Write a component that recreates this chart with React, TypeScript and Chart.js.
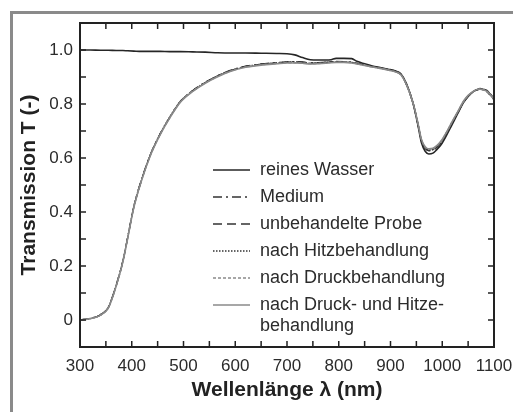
import { useEffect, useRef } from 'react';
import { Chart, registerables } from 'chart.js';

Chart.register(...registerables);

// Wavelength grid (nm)
const wavelengths = [
  300, 320, 340, 355, 370, 383, 392, 404, 419, 437,
  455, 473, 494, 518, 542, 566, 590, 620, 650, 680,
  700, 715, 730, 745, 760, 775, 785, 795, 810, 825,
  835, 850, 865, 880, 895, 910, 920, 931, 944, 954,
  960, 967, 974, 982, 990, 998, 1008, 1018, 1030, 1041,
  1050, 1060, 1067, 1073, 1080, 1086, 1092, 1096, 1100,
];

const reinesWasser = [
  1.000, 1.000, 0.999, 0.999, 0.998, 0.998, 0.997, 0.996, 0.995, 0.995,
  0.995, 0.994, 0.994, 0.993, 0.992, 0.990, 0.989, 0.989, 0.988, 0.987,
  0.986, 0.982, 0.972, 0.964, 0.963, 0.963, 0.964, 0.969, 0.969, 0.968,
  0.958, 0.949, 0.941, 0.935, 0.929, 0.922, 0.912, 0.875, 0.800, 0.712,
  0.655, 0.625, 0.615, 0.618, 0.632, 0.650, 0.683, 0.720, 0.765, 0.805,
  0.828, 0.846, 0.853, 0.857, 0.854, 0.850, 0.838, 0.830, 0.818,
];

const medium = [
  0.000, 0.006, 0.020, 0.048, 0.130, 0.220, 0.305, 0.420, 0.520, 0.617,
  0.690, 0.750, 0.810, 0.850, 0.880, 0.905, 0.924, 0.940, 0.948, 0.953,
  0.956, 0.957, 0.956, 0.952, 0.953, 0.955, 0.957, 0.958, 0.957, 0.955,
  0.951, 0.945, 0.939, 0.934, 0.928, 0.921, 0.910, 0.872, 0.800, 0.718,
  0.665, 0.638, 0.630, 0.632, 0.643, 0.660, 0.692, 0.728, 0.770, 0.808,
  0.830, 0.846, 0.852, 0.855, 0.852, 0.846, 0.835, 0.827, 0.815,
];

const unbehandelteProbe = [
  0.000, 0.005, 0.019, 0.047, 0.128, 0.218, 0.303, 0.418, 0.519, 0.616,
  0.689, 0.749, 0.809, 0.849, 0.879, 0.904, 0.923, 0.939, 0.947, 0.952,
  0.955, 0.956, 0.955, 0.951, 0.952, 0.954, 0.956, 0.957, 0.956, 0.954,
  0.950, 0.944, 0.938, 0.933, 0.927, 0.920, 0.909, 0.871, 0.799, 0.716,
  0.662, 0.635, 0.627, 0.629, 0.640, 0.657, 0.689, 0.726, 0.768, 0.806,
  0.829, 0.845, 0.852, 0.856, 0.851, 0.847, 0.834, 0.828, 0.814,
];

const nachHitze = [
  0.001, 0.006, 0.021, 0.049, 0.131, 0.221, 0.306, 0.421, 0.521, 0.618,
  0.691, 0.751, 0.810, 0.850, 0.880, 0.904, 0.923, 0.939, 0.947, 0.952,
  0.955, 0.955, 0.954, 0.951, 0.952, 0.954, 0.956, 0.957, 0.956, 0.954,
  0.950, 0.945, 0.939, 0.933, 0.927, 0.920, 0.909, 0.871, 0.800, 0.718,
  0.664, 0.637, 0.629, 0.631, 0.642, 0.659, 0.691, 0.727, 0.769, 0.807,
  0.829, 0.846, 0.853, 0.854, 0.853, 0.845, 0.836, 0.826, 0.816,
];

const nachDruck = [
  0.000, 0.005, 0.019, 0.046, 0.127, 0.217, 0.302, 0.417, 0.518, 0.615,
  0.688, 0.748, 0.808, 0.848, 0.878, 0.902, 0.921, 0.937, 0.945, 0.950,
  0.953, 0.953, 0.952, 0.949, 0.950, 0.952, 0.954, 0.955, 0.955, 0.953,
  0.949, 0.943, 0.937, 0.932, 0.926, 0.919, 0.908, 0.871, 0.800, 0.720,
  0.667, 0.640, 0.632, 0.634, 0.645, 0.662, 0.694, 0.730, 0.771, 0.809,
  0.831, 0.847, 0.853, 0.856, 0.852, 0.848, 0.836, 0.829, 0.817,
];

const nachDruckUndHitze = [
  0.000, 0.005, 0.018, 0.046, 0.126, 0.216, 0.301, 0.416, 0.517, 0.614,
  0.687, 0.747, 0.807, 0.847, 0.877, 0.901, 0.920, 0.936, 0.944, 0.949,
  0.952, 0.952, 0.951, 0.948, 0.949, 0.951, 0.953, 0.954, 0.954, 0.952,
  0.948, 0.943, 0.937, 0.932, 0.926, 0.919, 0.908, 0.871, 0.801, 0.721,
  0.668, 0.642, 0.634, 0.636, 0.647, 0.664, 0.695, 0.731, 0.772, 0.810,
  0.832, 0.847, 0.854, 0.855, 0.853, 0.847, 0.837, 0.828, 0.818,
];

const seriesLabels = [
  'reines Wasser',
  'Medium',
  'unbehandelte Probe',
  'nach Hitzbehandlung',
  'nach Druckbehandlung',
  'nach Druck- und Hitzebehandlung',
];

const legendTexts = [
  ['reines Wasser'],
  ['Medium'],
  ['unbehandelte Probe'],
  ['nach Hitzbehandlung'],
  ['nach Druckbehandlung'],
  ['nach Druck- und Hitze-', 'behandlung'],
];

const xTitle = 'Wellenlänge λ (nm)';
const yTitle = 'Transmission T (-)';

const FONT = "'Liberation Sans', Arial, Helvetica, sans-serif";

const seriesValues = [reinesWasser, medium, unbehandelteProbe, nachHitze, nachDruck, nachDruckUndHitze];
const seriesStyles = [
  { color: '#262626', width: 1.6, dash: [] as number[], order: 5 },
  { color: '#333333', width: 1.4, dash: [9, 4, 2, 4], order: 4 },
  { color: '#333333', width: 1.4, dash: [9, 5], order: 3 },
  { color: '#333333', width: 1.2, dash: [1.5, 1.5], order: 2 },
  { color: '#8a8a8a', width: 1.4, dash: [3, 2], order: 1 },
  { color: '#8a8a8a', width: 1.6, dash: [] as number[], order: 0 },
];

const framePlugin = {
  id: 'frameTicksLegend',
  afterDraw(chart: any) {
    const { ctx, chartArea: a, scales } = chart;
    const x = scales.x;
    const y = scales.y;
    ctx.save();
    // inward tick marks on all four sides
    ctx.strokeStyle = '#222';
    ctx.lineWidth = 1.5;
    ctx.beginPath();
    x.ticks.forEach((t: any) => {
      const px = x.getPixelForValue(t.value);
      ctx.moveTo(px, a.bottom);
      ctx.lineTo(px, a.bottom - 6);
      ctx.moveTo(px, a.top);
      ctx.lineTo(px, a.top + 6);
    });
    y.ticks.forEach((t: any) => {
      const py = y.getPixelForValue(t.value);
      ctx.moveTo(a.left, py);
      ctx.lineTo(a.left + 6, py);
      ctx.moveTo(a.right, py);
      ctx.lineTo(a.right - 6, py);
    });
    ctx.stroke();
    ctx.lineWidth = 2;
    ctx.strokeRect(a.left, a.top, a.right - a.left, a.bottom - a.top);

    // legend inside plot area
    const lx = a.left + 133;
    const lineLen = 37;
    const tx = lx + 47;
    let ly = a.top + 147;
    ctx.font = `18px ${FONT}`;
    ctx.textBaseline = 'middle';
    ctx.textAlign = 'left';
    chart.data.datasets.forEach((ds: any, i: number) => {
      ctx.beginPath();
      ctx.strokeStyle = ds.borderColor;
      ctx.lineWidth = Math.max(ds.borderWidth, 1.5);
      ctx.setLineDash(ds.borderDash || []);
      ctx.moveTo(lx, ly);
      ctx.lineTo(lx + lineLen, ly);
      ctx.stroke();
      ctx.setLineDash([]);
      ctx.fillStyle = '#2b2b2b';
      const lines = legendTexts[i];
      lines.forEach((s, j) => ctx.fillText(s, tx, ly + j * 21));
      ly += 27;
    });
    ctx.restore();
  },
};

export default function App() {
  const ref = useRef<HTMLCanvasElement>(null);
  useEffect(() => {
    document.body.style.margin = '0';
    if (!ref.current) return;
    const datasets = seriesLabels.map((label, i) => ({
      label,
      data: wavelengths.map((w, k) => ({ x: w, y: seriesValues[i][k] })),
      borderColor: seriesStyles[i].color,
      borderWidth: seriesStyles[i].width,
      borderDash: seriesStyles[i].dash,
      order: seriesStyles[i].order,
      pointRadius: 0,
      fill: false,
      cubicInterpolationMode: 'monotone' as const,
    }));
    const chart = new Chart(ref.current, {
      type: 'line',
      data: { datasets },
      plugins: [framePlugin],
      options: {
        animation: false,
        responsive: false,
        devicePixelRatio: 1,
        layout: { padding: { left: 0, right: 19, top: 23, bottom: 0 } },
        plugins: { legend: { display: false }, tooltip: { enabled: false } },
        scales: {
          x: {
            type: 'linear',
            min: 300,
            max: 1100,
            border: { display: false },
            grid: { display: false, drawTicks: false },
            ticks: {
              stepSize: 50,
              autoSkip: false,
              maxRotation: 0,
              padding: 9,
              color: '#2b2b2b',
              font: { size: 17, family: FONT },
              callback: (v: any) => (Math.round(v) % 100 === 0 ? String(Math.round(v)) : ''),
            },
            title: {
              display: true,
              text: xTitle,
              color: '#222',
              font: { size: 21, weight: 'bold', family: FONT },
              padding: { top: 0, bottom: 9 },
            },
            afterFit: (s: any) => {
              s.height = 65;
              s.paddingLeft = 0;
              s.paddingRight = 0;
            },
          },
          y: {
            type: 'linear',
            min: -0.1,
            max: 1.1,
            border: { display: false },
            grid: { display: false, drawTicks: false },
            ticks: {
              stepSize: 0.1,
              autoSkip: false,
              padding: 7,
              color: '#2b2b2b',
              font: { size: 17, family: FONT },
              callback: (v: any) => {
                const r = Math.round(Number(v) * 10);
                if (r < 0 || r % 2 !== 0 || r > 10) return '';
                return r === 0 ? '0' : (r / 10).toFixed(1);
              },
            },
            title: {
              display: true,
              text: yTitle,
              color: '#222',
              font: { size: 21, weight: 'bold', family: FONT },
              padding: { top: 17, bottom: 0 },
            },
            afterFit: (s: any) => {
              s.width = 80;
              s.paddingTop = 0;
              s.paddingBottom = 0;
            },
          },
        },
      } as any,
    });
    return () => chart.destroy();
  }, []);

  return (
    <div style={{ position: 'relative', width: 513, height: 412, overflow: 'hidden', background: '#fff' }}>
      <canvas ref={ref} width={513} height={412} style={{ display: 'block' }} />
      <div
        style={{
          position: 'absolute',
          left: 10,
          top: 11,
          right: 0,
          bottom: 0,
          borderLeft: '3px solid #8a8a8a',
          borderTop: '3px solid #8a8a8a',
          pointerEvents: 'none',
        }}
      />
    </div>
  );
}
